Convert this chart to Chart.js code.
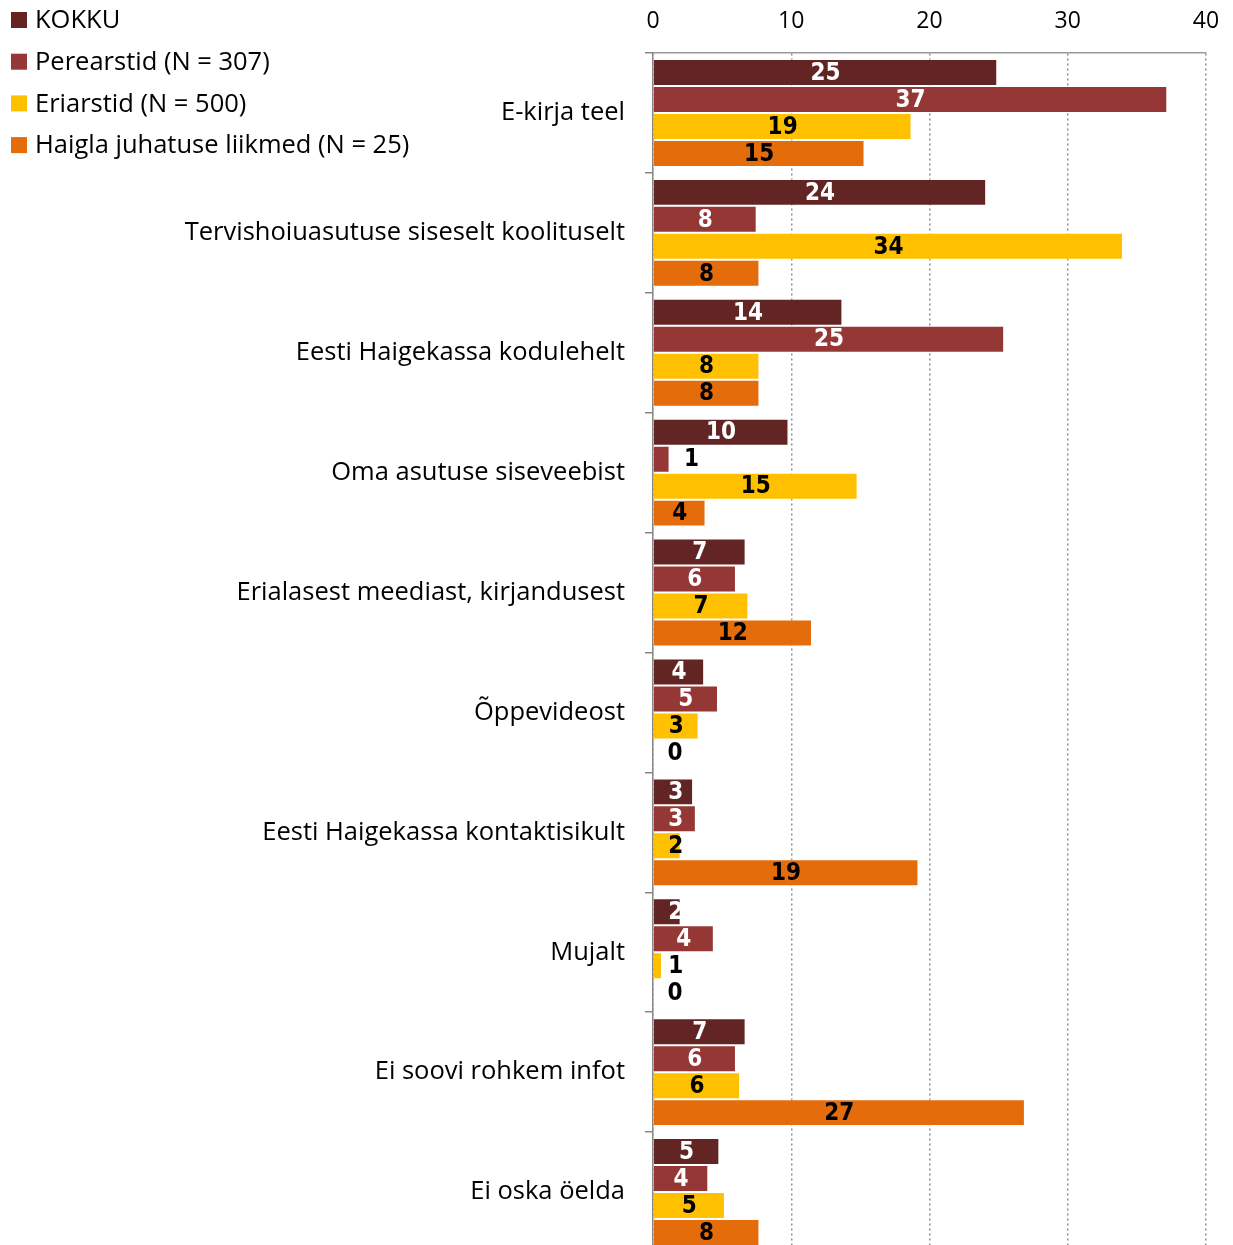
<!DOCTYPE html>
<html lang="et">
<head>
    <meta charset="UTF-8">
    <title>Infoallikad</title>
    <script src="https://cdn.jsdelivr.net/npm/chart.js"></script>
    <style>
        html, body {
            margin: 0;
            padding: 0;
            background: #fff;
            overflow: hidden;
        }
        .wrap {
            width: 1233px;
            height: 1245px;
            overflow: hidden;
        }
    </style>
</head>
<body>
    <div class="wrap">
        <canvas id="infoChart" width="1233" height="1252"></canvas>
    </div>

    <script>
        // Categories (answers) and series values in %
        const categories = [
            'E-kirja teel',
            'Tervishoiuasutuse siseselt koolituselt',
            'Eesti Haigekassa kodulehelt',
            'Oma asutuse siseveebist',
            'Erialasest meediast, kirjandusest',
            'Õppevideost',
            'Eesti Haigekassa kontaktisikult',
            'Mujalt',
            'Ei soovi rohkem infot',
            'Ei oska öelda'
        ];
        const seriesNames = ['KOKKU', 'Perearstid (N = 307)', 'Eriarstid (N = 500)', 'Haigla juhatuse liikmed (N = 25)'];
        const kokku      = [24.9, 24.1, 13.7, 9.8, 6.7, 3.7, 2.9, 2.0, 6.7, 4.8];
        const perearstid = [37.2, 7.5, 25.4, 1.2, 6.0, 4.7, 3.1, 4.4, 6.0, 4.0];
        const eriarstid  = [18.7, 34.0, 7.7, 14.8, 6.9, 3.3, 2.0, 0.65, 6.3, 5.2];
        const haigla     = [15.3, 7.7, 7.7, 3.8, 11.5, 0, 19.2, 0, 26.9, 7.7];
        const xTicks = [0, 10, 20, 30, 40];

        const colors = ['#632523', '#953735', '#FFC000', '#E46C0A'];
        const labelColors = ['#fff', '#fff', '#000', '#000'];
        const fontMain = '"Open Sans", Lato, sans-serif';

        // value labels on the bars
        const barLabels = {
            id: 'barLabels',
            afterDatasetsDraw(chart) {
                const ctx = chart.ctx;
                ctx.save();
                ctx.font = 'bold 24px "Liberation Sans Narrow", "DejaVu Sans Condensed", sans-serif';
                ctx.textAlign = 'center';
                ctx.textBaseline = 'middle';
                chart.data.datasets.forEach((ds, di) => {
                    const meta = chart.getDatasetMeta(di);
                    meta.data.forEach((bar, i) => {
                        const txt = String(Math.round(ds.data[i]));
                        const x0 = bar.base, x1 = bar.x;
                        let x = Math.max((x0 + x1) / 2, x0 + 22);
                        let col = labelColors[di];
                        // too short for a white label: put it after the bar in black
                        if (x1 - x0 < 20 && col === '#fff') {
                            col = '#000';
                            x = x1 + 22;
                        }
                        ctx.fillStyle = col;
                        ctx.fillText(txt, x, bar.y + 1);
                    });
                });
                ctx.restore();
            }
        };

        // legend in the upper left corner
        const cornerLegend = {
            id: 'cornerLegend',
            afterDraw(chart) {
                const ctx = chart.ctx;
                ctx.save();
                ctx.font = '25.5px ' + fontMain;
                ctx.textBaseline = 'middle';
                ctx.textAlign = 'left';
                chart.data.datasets.forEach((ds, i) => {
                    const y = 20 + i * 41.7;
                    ctx.fillStyle = ds.backgroundColor;
                    ctx.fillRect(11, y - 8, 16, 16);
                    ctx.fillStyle = '#000';
                    ctx.fillText(ds.label, 35, y + 1);
                });
                ctx.restore();
            }
        };

        const seriesData = [kokku, perearstid, eriarstid, haigla];

        new Chart(document.getElementById('infoChart'), {
            type: 'bar',
            data: {
                labels: categories,
                datasets: seriesData.map((d, i) => ({
                    label: seriesNames[i],
                    data: d,
                    backgroundColor: colors[i],
                    borderColor: 'rgba(255,255,255,0.3)',
                    borderWidth: 1,
                    barPercentage: 1,
                    categoryPercentage: 0.9
                }))
            },
            options: {
                indexAxis: 'y',
                responsive: false,
                animation: false,
                devicePixelRatio: 1,
                layout: { padding: { left: 0, right: 27, top: 0, bottom: 0 } },
                plugins: {
                    legend: { display: false },
                    tooltip: { enabled: false }
                },
                scales: {
                    x: {
                        position: 'top',
                        min: 0,
                        max: 40,
                        afterBuildTicks(scale) {
                            scale.ticks = xTicks.map(v => ({ value: v }));
                        },
                        afterFit(scale) {
                            scale.height = 53;
                            scale.paddingLeft = 0;
                            scale.paddingRight = 0;
                        },
                        grid: {
                            color: '#8c8c8c',
                            lineWidth: 1.5,
                            drawTicks: false
                        },
                        border: { display: true, color: '#999', width: 1.5, dash: [2, 3] },
                        ticks: {
                            color: '#000',
                            font: { size: 23, family: fontMain },
                            padding: 18
                        }
                    },
                    y: {
                        afterFit(scale) {
                            scale.width = 653;
                            scale.paddingTop = 0;
                            scale.paddingBottom = 0;
                        },
                        grid: {
                            offset: true,
                            drawOnChartArea: false,
                            drawTicks: true,
                            tickLength: 8,
                            color: '#888',
                            lineWidth: 1.5
                        },
                        border: { display: true, color: '#888', width: 1.5 },
                        ticks: {
                            color: '#000',
                            font: { size: 25.5, family: fontMain },
                            padding: 20
                        }
                    }
                }
            },
            plugins: [barLabels, cornerLegend]
        });
    </script>
</body>
</html>
